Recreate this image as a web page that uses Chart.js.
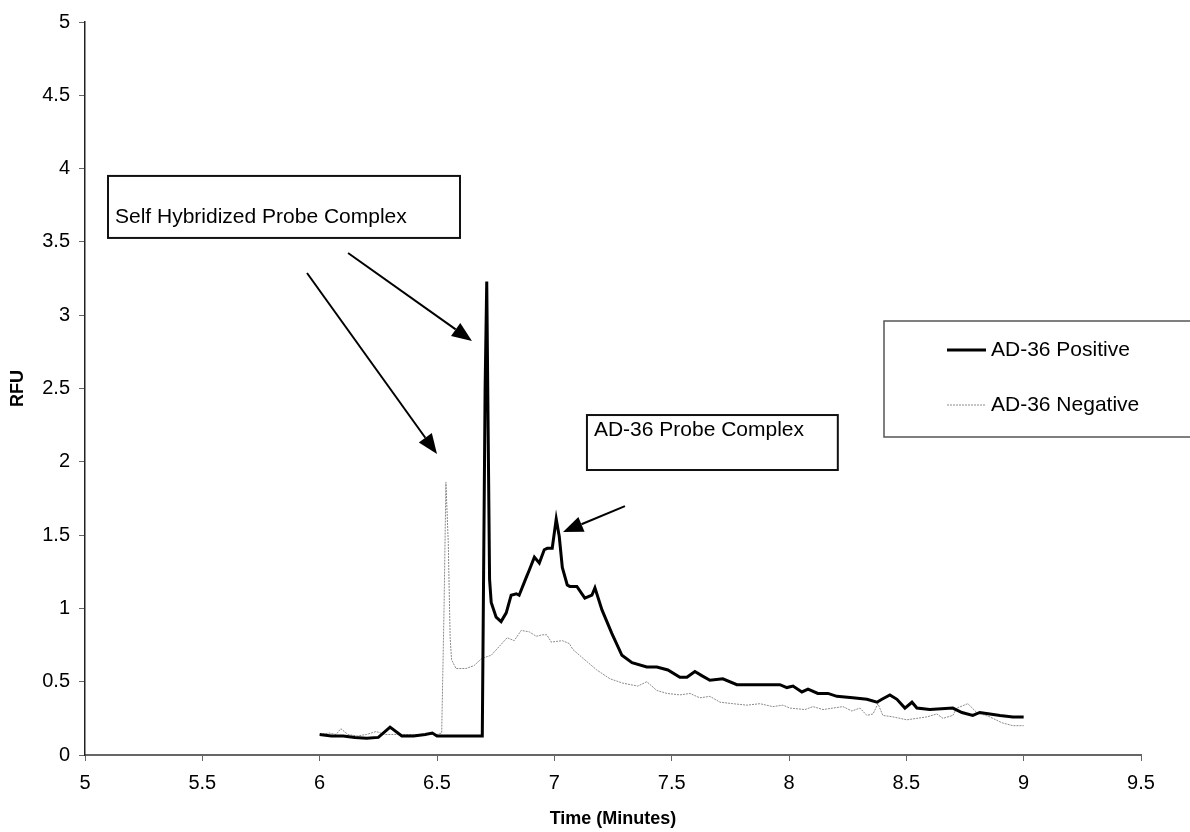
<!DOCTYPE html>
<html>
<head>
<meta charset="utf-8">
<script src="https://cdn.jsdelivr.net/npm/chart.js@4"></script>
<style>
  body { margin: 0; background: #fff; }
  #wrap { width: 1190px; height: 832px; }
</style>
</head>
<body>
<div id="wrap"><canvas id="chart" width="1190" height="832"></canvas></div>
<script>
// AD-36 Positive trace (time in minutes, RFU)
const posTime = [6.00, 6.05, 6.10, 6.15, 6.20, 6.25, 6.30, 6.35, 6.40, 6.45, 6.48, 6.50, 6.55, 6.60, 6.65, 6.693,
  6.705, 6.712, 6.718, 6.724, 6.731, 6.752, 6.773, 6.795, 6.816, 6.838, 6.850, 6.880, 6.893, 6.915, 6.936, 6.957,
  6.970, 6.991, 7.008, 7.021, 7.034, 7.055, 7.066, 7.096, 7.130, 7.160, 7.173, 7.203, 7.245, 7.288, 7.331, 7.394,
  7.437, 7.484, 7.535, 7.565, 7.599, 7.630, 7.663, 7.718, 7.778, 7.846, 7.931, 7.961, 7.991, 8.017, 8.055, 8.081,
  8.123, 8.166, 8.204, 8.272, 8.332, 8.375, 8.396, 8.430, 8.460, 8.494, 8.524, 8.545, 8.600, 8.698, 8.737, 8.783,
  8.813, 8.856, 8.899, 8.954, 9.00];
const posRfu = [0.14, 0.13, 0.13, 0.12, 0.115, 0.12, 0.19, 0.13, 0.13, 0.14, 0.15, 0.13, 0.13, 0.13, 0.13, 0.13,
  2.5, 3.23, 2.2, 1.2, 1.04, 0.94, 0.91, 0.97, 1.09, 1.10, 1.09, 1.21, 1.26, 1.35, 1.31, 1.40,
  1.41, 1.41, 1.61, 1.49, 1.28, 1.16, 1.15, 1.15, 1.07, 1.09, 1.14, 0.99, 0.83, 0.68, 0.63, 0.60,
  0.60, 0.58, 0.53, 0.53, 0.57, 0.54, 0.51, 0.52, 0.48, 0.48, 0.48, 0.48, 0.46, 0.47, 0.43, 0.45,
  0.42, 0.42, 0.40, 0.39, 0.38, 0.36, 0.38, 0.41, 0.38, 0.32, 0.36, 0.32, 0.31, 0.32, 0.29, 0.27,
  0.29, 0.28, 0.27, 0.26, 0.26];

// AD-36 Negative trace
const negTime = [6.00, 6.04, 6.07, 6.09, 6.12, 6.16, 6.20, 6.24, 6.28, 6.35, 6.40, 6.45, 6.50, 6.52, 6.530,
  6.538, 6.548, 6.556, 6.562, 6.581, 6.624, 6.658, 6.692, 6.731, 6.765, 6.799, 6.829, 6.859, 6.893, 6.923,
  6.949, 6.968, 6.987, 7.034, 7.064, 7.079, 7.122, 7.181, 7.237, 7.292, 7.356, 7.394, 7.437, 7.480, 7.535,
  7.578, 7.620, 7.663, 7.706, 7.761, 7.821, 7.876, 7.931, 7.974, 8.004, 8.068, 8.102, 8.145, 8.187, 8.230,
  8.268, 8.302, 8.332, 8.358, 8.379, 8.400, 8.443, 8.502, 8.545, 8.588, 8.630, 8.656, 8.698, 8.715, 8.762,
  8.800, 8.856, 8.907, 8.954, 9.00];
const negRfu = [0.14, 0.15, 0.14, 0.18, 0.14, 0.13, 0.14, 0.16, 0.14, 0.14, 0.14, 0.14, 0.14, 0.15, 1.0,
  1.86, 1.45, 0.8, 0.65, 0.59, 0.59, 0.61, 0.66, 0.68, 0.74, 0.80, 0.78, 0.85, 0.84, 0.81,
  0.82, 0.82, 0.77, 0.78, 0.76, 0.72, 0.66, 0.58, 0.52, 0.49, 0.47, 0.50, 0.44, 0.42, 0.41,
  0.42, 0.39, 0.40, 0.36, 0.35, 0.34, 0.35, 0.33, 0.34, 0.32, 0.31, 0.33, 0.31, 0.32, 0.33,
  0.30, 0.32, 0.27, 0.28, 0.35, 0.27, 0.26, 0.24, 0.25, 0.26, 0.28, 0.25, 0.27, 0.32, 0.35,
  0.29, 0.26, 0.22, 0.20, 0.20];

const seriesNames = ['AD-36 Positive', 'AD-36 Negative'];
const xRange = [5, 9.5];
const yRange = [0, 5];
const tickStep = 0.5;

// callout boxes and arrows, in data units
const callouts = [
  { text: 'Self Hybridized Probe Complex', x0: 5.098, x1: 6.598, y0: 3.950, y1: 3.527, ty: 3.670 },
  { text: 'AD-36 Probe Complex', x0: 7.139, x1: 8.208, y0: 2.319, y1: 1.944, ty: 2.217 }
];
const arrows = [
  { from: [6.121, 3.424], to: [6.649, 2.824] },
  { from: [5.946, 3.288], to: [6.500, 2.053] },
  { from: [7.301, 1.698], to: [7.037, 1.521] }
];

const FONT = '"Liberation Sans", Arial, sans-serif';
const toPoints = (xs, ys) => xs.map((x, i) => ({ x: x, y: ys[i] }));
const plainNum = v => String(Number(v.toFixed(2)));

const annotate = {
  id: 'annotate',
  afterDatasetsDraw(chart) {
    const ctx = chart.ctx;
    const sx = chart.scales.x, sy = chart.scales.y;
    ctx.save();
    ctx.font = '21px ' + FONT;
    ctx.textBaseline = 'middle';
    ctx.textAlign = 'left';
    callouts.forEach(c => {
      const l = sx.getPixelForValue(c.x0), r = sx.getPixelForValue(c.x1);
      const t = sy.getPixelForValue(c.y0), b = sy.getPixelForValue(c.y1);
      ctx.fillStyle = '#fff';
      ctx.fillRect(l, t, r - l, b - t);
      ctx.strokeStyle = '#111';
      ctx.lineWidth = 2;
      ctx.strokeRect(l, t, r - l, b - t);
      ctx.fillStyle = '#000';
      ctx.fillText(c.text, l + 7, sy.getPixelForValue(c.ty));
    });

    arrows.forEach(a => {
      const x1 = sx.getPixelForValue(a.from[0]), y1 = sy.getPixelForValue(a.from[1]);
      const x2 = sx.getPixelForValue(a.to[0]), y2 = sy.getPixelForValue(a.to[1]);
      const ang = Math.atan2(y2 - y1, x2 - x1);
      const len = 20, half = 8;
      const bx = x2 - len * Math.cos(ang), by = y2 - len * Math.sin(ang);
      ctx.strokeStyle = '#000';
      ctx.lineWidth = 2;
      ctx.beginPath();
      ctx.moveTo(x1, y1);
      ctx.lineTo(bx, by);
      ctx.stroke();
      ctx.fillStyle = '#000';
      ctx.beginPath();
      ctx.moveTo(x2, y2);
      ctx.lineTo(bx + half * Math.sin(ang), by - half * Math.cos(ang));
      ctx.lineTo(bx - half * Math.sin(ang), by + half * Math.cos(ang));
      ctx.closePath();
      ctx.fill();
    });

    // legend box
    const lx = 884, ly = 321, lw = 330, lh = 116;
    ctx.fillStyle = '#fff';
    ctx.fillRect(lx, ly, lw, lh);
    ctx.strokeStyle = '#555';
    ctx.lineWidth = 1.5;
    ctx.strokeRect(lx, ly, lw, lh);
    const rows = [350, 405];
    chart.data.datasets.forEach((ds, i) => {
      ctx.strokeStyle = ds.borderColor;
      ctx.lineWidth = ds.borderWidth;
      ctx.setLineDash(ds.borderDash || []);
      ctx.beginPath();
      ctx.moveTo(947, rows[i]);
      ctx.lineTo(986, rows[i]);
      ctx.stroke();
      ctx.setLineDash([]);
      ctx.fillStyle = '#000';
      ctx.fillText(ds.label, 991, rows[i]);
    });
    ctx.restore();
  }
};

new Chart(document.getElementById('chart'), {
  type: 'line',
  data: {
    datasets: [
      {
        label: seriesNames[0],
        data: toPoints(posTime, posRfu),
        borderColor: '#000',
        borderWidth: 3,
        pointRadius: 0,
        tension: 0,
        order: 1
      },
      {
        label: seriesNames[1],
        data: toPoints(negTime, negRfu),
        borderColor: '#8a8a8a',
        borderWidth: 1,
        borderDash: [2, 1],
        pointRadius: 0,
        tension: 0,
        order: 2
      }
    ]
  },
  options: {
    responsive: false,
    animation: false,
    layout: { padding: { top: 22, right: 49, left: 0, bottom: 0 } },
    plugins: { legend: { display: false }, tooltip: { enabled: false } },
    scales: {
      x: {
        type: 'linear',
        min: xRange[0],
        max: xRange[1],
        afterFit: s => { s.height = 77; },
        ticks: { stepSize: tickStep, padding: 10, color: '#000', font: { family: FONT, size: 20 }, maxRotation: 0, callback: plainNum },
        grid: { drawOnChartArea: false, drawTicks: true, tickLength: 6, color: '#666' },
        border: { display: true, color: '#666', width: 2 },
        title: { display: true, text: 'Time (Minutes)', color: '#000', font: { family: FONT, size: 18, weight: 'bold' }, padding: { top: 0, bottom: 2 } }
      },
      y: {
        min: yRange[0],
        max: yRange[1],
        afterFit: s => { s.width = 85; },
        ticks: { stepSize: tickStep, padding: 9, color: '#000', font: { family: FONT, size: 20 }, callback: plainNum },
        grid: { drawOnChartArea: false, drawTicks: true, tickLength: 6, color: '#666' },
        border: { display: true, color: '#222', width: 1.5 },
        title: { display: true, text: 'RFU', color: '#000', font: { family: FONT, size: 18, weight: 'bold' }, padding: { top: 7, bottom: 0 } }
      }
    }
  },
  plugins: [annotate]
});
</script>
</body>
</html>
